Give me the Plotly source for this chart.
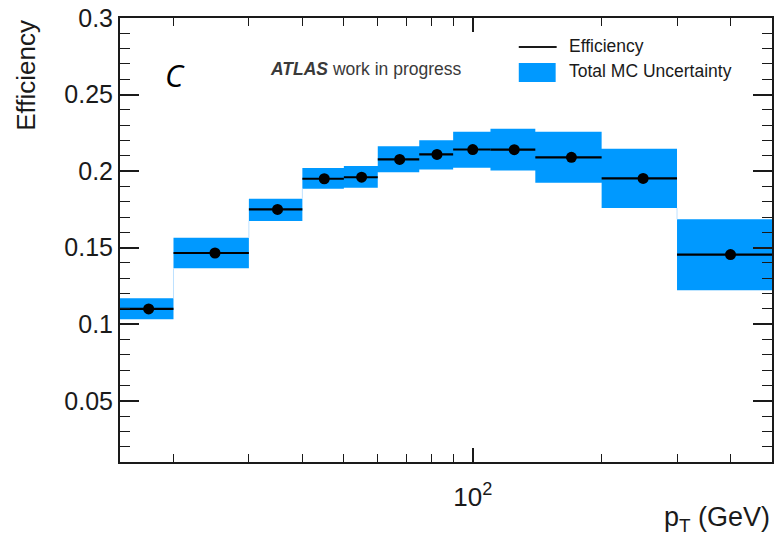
import plotly.graph_objects as go
import math

# ---- data ----
bin_edges = [15, 20, 30, 40, 50, 60, 75, 90, 110, 140, 200, 300, 500]
efficiency = [0.110, 0.1465, 0.175, 0.195, 0.196, 0.2076, 0.2109, 0.2141, 0.2140, 0.2090, 0.1952, 0.1455]
unc_upper = [0.1170, 0.1565, 0.1820, 0.2020, 0.2033, 0.2163, 0.2202, 0.2257, 0.2276, 0.2257, 0.2146, 0.1685]
unc_lower = [0.1033, 0.1365, 0.1674, 0.1885, 0.1891, 0.1993, 0.2011, 0.2022, 0.2004, 0.1924, 0.1759, 0.1222]
y_tick_vals = [0.05, 0.1, 0.15, 0.2, 0.25, 0.3]
y_tick_text = ["0.05", "0.1", "0.15", "0.2", "0.25", "0.3"]
x_tick_vals = [100]
x_tick_text = ["10<sup>2</sup>"]
x_minor_vals = [20, 30, 40, 50, 60, 70, 80, 90, 200, 300, 400]

BLUE = "rgb(0,153,255)"
LIGHT = "rgb(190,225,255)"
DARK = "#1a1a1a"
FONT = "Liberation Sans, Arial, sans-serif"

# plot-area geometry in pixels (for paper-coordinate placement of decorations)
L, R, T, B = 120, 774, 18, 462
PW, PH = R - L, B - T


def px(x):
    return (x - L) / PW


def py(y):
    return (B - y) / PH


centers = [(bin_edges[i] + bin_edges[i + 1]) / 2 for i in range(len(efficiency))]

fig = go.Figure()

# uncertainty boxes
bx, by = [], []
for i in range(len(efficiency)):
    lo, hi = bin_edges[i], bin_edges[i + 1]
    bx += [lo, hi, hi, lo, lo, None]
    by += [unc_lower[i], unc_lower[i], unc_upper[i], unc_upper[i], unc_lower[i], None]
fig.add_trace(go.Scatter(x=bx, y=by, mode="lines", fill="toself", fillcolor=BLUE,
                         line=dict(width=0, color=BLUE), hoverinfo="skip", showlegend=False))

# faint connectors between adjacent boxes
cx, cy = [], []
for i in range(len(efficiency) - 1):
    e = bin_edges[i + 1]
    a_lo, a_hi = unc_lower[i], unc_upper[i]
    b_lo, b_hi = unc_lower[i + 1], unc_upper[i + 1]
    if a_hi < b_lo:
        cx += [e, e, None]; cy += [a_hi, b_lo, None]
    elif b_hi < a_lo:
        cx += [e, e, None]; cy += [a_lo, b_hi, None]
fig.add_trace(go.Scatter(x=cx, y=cy, mode="lines", line=dict(width=1, color=LIGHT),
                         hoverinfo="skip", showlegend=False))

# horizontal central lines
hx, hy = [], []
for i in range(len(efficiency)):
    hx += [bin_edges[i], bin_edges[i + 1], None]
    hy += [efficiency[i], efficiency[i], None]
fig.add_trace(go.Scatter(x=hx, y=hy, mode="lines", line=dict(width=2.2, color="black"),
                         hoverinfo="skip", showlegend=False))

# markers
fig.add_trace(go.Scatter(x=centers, y=efficiency, mode="markers",
                         marker=dict(size=11, color="black"), showlegend=False))

# ---- legend (manual) ----
fig.add_shape(type="line", xref="paper", yref="paper",
              x0=px(520), x1=px(558), y0=py(47), y1=py(47),
              line=dict(color=DARK, width=2))
fig.add_shape(type="rect", xref="paper", yref="paper",
              x0=px(520), x1=px(557), y0=py(82), y1=py(63),
              fillcolor=BLUE, line=dict(width=0))
fig.add_annotation(xref="paper", yref="paper", x=px(568), y=py(46),
                   text="Efficiency", showarrow=False, xanchor="left", yanchor="middle",
                   font=dict(family=FONT, size=17.5, color=DARK))
fig.add_annotation(xref="paper", yref="paper", x=px(568), y=py(71),
                   text="Total MC Uncertainty", showarrow=False, xanchor="left", yanchor="middle",
                   font=dict(family=FONT, size=17.5, color=DARK))

# ATLAS label and C
fig.add_annotation(xref="paper", yref="paper", x=px(268), y=py(69),
                   text="<b><i>ATLAS</i></b> work in progress", showarrow=False,
                   xanchor="left", yanchor="middle",
                   font=dict(family=FONT, size=17.5, color="#3a3a3a"))
fig.add_annotation(xref="paper", yref="paper", x=px(175), y=py(75),
                   text="<i>C</i>", showarrow=False, xanchor="center", yanchor="middle",
                   font=dict(family="Open Sans, sans-serif", size=31, color="black"))

# axis titles
fig.add_annotation(xref="paper", yref="paper", x=px(25), y=1.0,
                   text="Efficiency", showarrow=False, textangle=-90,
                   xanchor="center", yanchor="top",
                   font=dict(family=FONT, size=26, color=DARK))
fig.add_annotation(xref="paper", yref="paper", x=1.0, y=py(519),
                   text="p<sub>T</sub> (GeV)", showarrow=False,
                   xanchor="right", yanchor="middle",
                   font=dict(family=FONT, size=27, color=DARK))

fig.update_layout(
    width=777, height=540,
    margin=dict(l=L, r=777 - R, t=T, b=540 - B),
    plot_bgcolor="white", paper_bgcolor="white",
    showlegend=False,
    font=dict(family=FONT, size=25, color=DARK),
)
fig.update_xaxes(
    type="log", range=[math.log10(bin_edges[0]), math.log10(bin_edges[-1])],
    tickmode="array", tickvals=x_tick_vals, ticktext=x_tick_text,
    ticks="inside", ticklen=14, tickwidth=1.5, tickcolor=DARK,
    showline=True, linecolor=DARK, linewidth=2, mirror="allticks",
    showgrid=False, zeroline=False, ticklabelstandoff=11,
    tickfont=dict(family=FONT, size=26, color=DARK),
    minor=dict(tickmode="array", tickvals=x_minor_vals, ticks="inside",
               ticklen=8, tickwidth=1.2, tickcolor=DARK, showgrid=False),
)
fig.update_yaxes(
    range=[0.01, 0.3],
    tickmode="array", tickvals=y_tick_vals, ticktext=y_tick_text,
    ticks="inside", ticklen=19, tickwidth=1.5, tickcolor=DARK,
    showline=True, linecolor=DARK, linewidth=2, mirror="allticks",
    showgrid=False, zeroline=False,
    tickfont=dict(family=FONT, size=25, color=DARK),
    minor=dict(dtick=0.01, tick0=0, ticks="inside", ticklen=10, tickwidth=1.2,
               tickcolor=DARK, showgrid=False),
)

fig.write_html("out.html", config={"displayModeBar": False},
               post_script="document.body.style.margin='0';")
